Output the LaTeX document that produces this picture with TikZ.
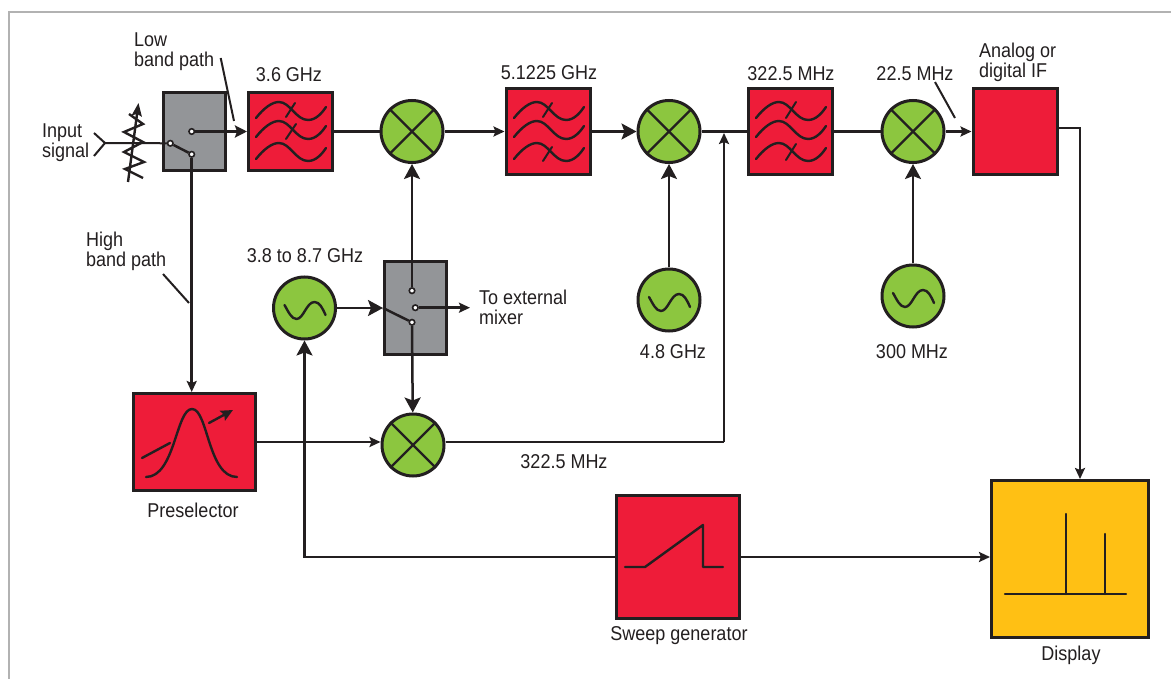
\documentclass[tikz,border=0pt]{standalone}
\usepackage{fontspec}
\setmainfont[FakeStretch=0.90]{Liberation Sans}
\usepackage{tikz}
\usetikzlibrary{arrows.meta,calc}
\definecolor{skRed}{RGB}{238,28,57}
\definecolor{skGreen}{RGB}{140,198,63}
\definecolor{skGray}{RGB}{147,149,152}
\definecolor{skYellow}{RGB}{255,192,20}
\definecolor{skInk}{RGB}{35,31,32}
\tikzset{
  lbl/.style={font=\fontsize{20}{20}\selectfont, text=skInk, inner sep=0pt, align=left},
  block/.style={draw=skInk, line width=3pt, minimum width=#1, inner sep=0pt, shape=rectangle},
  redbox/.style={block=84pt, fill=skRed, minimum height=86pt},
  graybox/.style={block=62pt, fill=skGray},
  roundbox/.style={draw=skInk, line width=3pt, fill=skGreen, circle, minimum size=62pt, inner sep=0pt},
  term/.style={draw=skInk, line width=1.6pt, fill=white, circle, minimum size=5.5pt, inner sep=0pt},
  wire/.style={draw=skInk, line width=2.5pt},
  big/.style={wire, -{Stealth[length=15pt,width=16pt,inset=3pt]}},
  mid/.style={wire, -{Stealth[length=12pt,width=12pt,inset=2pt]}},
  small/.style={wire, -{Stealth[length=11pt,width=10pt,inset=2pt]}},
  glyph/.style={draw=skInk, line width=2.4pt, line cap=round, line join=round}
}
% 一条滤波曲线，#1 #2 为起点
\def\onewave#1#2{
  \draw[glyph] (#1-34,#2) .. controls (#1-26,#2-10) and (#1-18,#2-16) .. (#1-11,#2-16)
    .. controls (#1,#2-16) and (#1+6,#2+2) .. (#1+18,#2+2)
    .. controls (#1+26,#2+2) and (#1+32,#2-5) .. (#1+36,#2-11);
}
\def\wavebank#1#2{
  \onewave{#1}{#2-13}\onewave{#1}{#2+6}\onewave{#1}{#2+28}
}
% 叉号
\def\crossmark#1{
  \draw[glyph, line cap=butt] (#1.45) -- (#1.225);
  \draw[glyph, line cap=butt] (#1.135) -- (#1.315);
}
\def\sinewave#1#2{
  \draw[glyph] (#1-20,#2-3) .. controls (#1-16,#2+4) and (#1-13,#2+11) .. (#1-8,#2+11)
    .. controls (#1-1,#2+11) and (#1+2,#2-6) .. (#1+10,#2-6)
    .. controls (#1+15,#2-6) and (#1+18,#2) .. (#1+21,#2+7);
}
\begin{document}
\begin{tikzpicture}[x=1pt, y=-1pt]
\useasboundingbox (0,0) rectangle (1171,679);
\fill[white] (0,0) rectangle (1171,679);
% 外框
\draw[gray!60, line width=1.5pt] (9,679) -- (9,12) -- (1171,12);
% 方框
\node[graybox, minimum height=78pt] (swlow) at (194,131.5) {};
\node[redbox, minimum height=78pt] (fltone) at (290.5,131.5) {};
\node[redbox] (flttwo) at (548,131.5) {};
\node[redbox] (fltthree) at (790,131.5) {};
\node[redbox] (ifbox) at (1015,131.5) {};
\node[roundbox] (mixone) at (412,131.5) {};
\node[roundbox] (mixtwo) at (669,131.5) {};
\node[roundbox] (mixthree) at (913,131.5) {};
\node[roundbox] (lofirst) at (304.5,308) {};
\node[roundbox] (losecond) at (669,300) {};
\node[roundbox] (lothird) at (913,296) {};
\node[graybox, minimum height=92pt] (swlo) at (415,308) {};
\node[roundbox] (mixfour) at (413,445) {};
\node[block=122pt, fill=skRed, minimum height=97pt] (presel) at (194.5,442) {};
\node[block=123pt, fill=skRed, minimum height=123pt] (sweep) at (678,557) {};
\node[block=157pt, fill=skYellow, minimum height=157pt] (display) at (1070,559) {};
\foreach \m in {mixone,mixtwo,mixthree,mixfour}{\crossmark{\m}}
% 滤波器
\wavebank{290}{131}
\wavebank{548}{131}
\wavebank{790}{131}
\draw[glyph, line width=2pt] (295,103) -- (286,117);
\draw[glyph, line width=2pt] (296,124) -- (286,139);
\draw[glyph, line width=2pt] (552,103) -- (543,117);
\draw[glyph, line width=2pt] (552,147) -- (543,161);
\draw[glyph, line width=2pt] (796,102) -- (786,118);
\draw[glyph, line width=2pt] (796,144) -- (786,160);
% 振荡器
\sinewave{304.5}{308}
\sinewave{669}{300}
\sinewave{913}{296}
% 预选器
\draw[glyph] (146,477) .. controls (175,477) and (176,409) .. (192,409)
  .. controls (208,409) and (208,477) .. (237,477);
\draw[glyph] (142,458) -- (170,443);
\draw[glyph, -{Stealth[length=12pt,width=11pt,inset=2pt]}] (209,423) -- (233,410);
% 扫频
\draw[glyph] (625,567) -- (645,567) -- (703,525) -- (703,567) -- (723,567);
% 显示
\draw[glyph] (1005,594) -- (1126,594);
\draw[glyph] (1066,514) -- (1066,594);
\draw[glyph] (1105,534) -- (1105,594);
% 开关触点
\node[term] (swa) at (191.7,131.5) {};
\node[term] (swb) at (170.3,143.3) {};
\node[term] (swc) at (191.7,154.3) {};
\node[term] (loa) at (412,290.7) {};
\node[term] (lob) at (415.3,307.7) {};
\node[term] (loc) at (412,322.3) {};
% 输入与衰减器
\coordinate (infork) at (105,143);
\coordinate (inup) at (94,133);
\coordinate (indown) at (94,156);
\coordinate (loarm) at (383,308);
\coordinate (atta) at (128,182);
\coordinate (attb) at (138.5,103);
\coordinate (extout) at (470,307.7);
\coordinate (joint) at (724,133);
\coordinate (ifturn) at (1080,128);
\coordinate (midturn) at (724,442);
\coordinate (sweepturn) at (304.5,557);
\draw[wire, line width=2pt] (inup) -- (infork) -- (indown);
\draw[wire, line width=2pt] (infork) -- (swb);
\draw[glyph, line join=miter, line cap=butt] (129,114) -- (143,124) -- (124,132) -- (143,142) -- (124,152) -- (144,162) -- (125,169) -- (143,178);
\draw[glyph, line cap=butt, -{Stealth[length=13pt,width=10pt,inset=2pt]}] (atta) -- (attb);
\draw[wire] (swb) -- (swc);
% 连线
\draw[mid] (swa) -- (fltone.west);
\draw[wire] (fltone) -- (mixone);
\draw[small] (mixone) -- (flttwo);
\draw[big] (flttwo) -- (mixtwo);
\draw[wire] (mixtwo) -- (fltthree);
\draw[wire] (fltthree) -- (mixthree);
\draw[small] (mixthree) -- (ifbox);
\draw[big] (losecond) -- (mixtwo);
\draw[big] (lothird) -- (mixthree);
\draw[big] (loa) -- (mixone);
\draw[big] (loc) -- (mixfour);
\draw[big] (lofirst) -- (loarm);
\draw[wire] (loarm) -- (loc);
\draw[small] (lob) -- (extout);
\draw[small] (swc) -- (swc |- presel.north);
\draw[small] (presel.east |- midturn) -- (mixfour.west |- midturn);
\draw[wire] (mixfour.east |- midturn) -- (midturn);
\draw[small] (midturn) -- (joint);
\draw[small] (ifbox.east |- ifturn) -- (ifturn) -- (display.north -| ifturn);
\draw[big] (sweep.west) -- (sweepturn) -- (lofirst.south);
\draw[small] (sweep.east) -- (display.west |- sweep.east);
% 引线
\coordinate (lowa) at (220.7,58);
\coordinate (lowb) at (234,121);
\coordinate (higha) at (163,274);
\coordinate (highb) at (189,303);
\coordinate (ifa) at (935,82);
\coordinate (ifb) at (955,118);
\draw[wire, line width=2pt] (lowa) -- (lowb);
\draw[wire, line width=2pt] (higha) -- (highb);
\draw[wire, line width=2pt] (ifa) -- (ifb);
% 文字
\node[lbl, anchor=west] (txlow) at (134,52) {Low\\band path};
\node[lbl] (txone) at (289,75) {3.6 GHz};
\node[lbl] (txtwo) at (549,73) {5.1225 GHz};
\node[lbl] (txthree) at (791,74) {322.5 MHz};
\node[lbl] (txfour) at (915,74) {22.5 MHz};
\node[lbl, anchor=west] (txif) at (979,62) {Analog or\\digital IF};
\node[lbl, anchor=west] (txin) at (42,143) {Input\\signal};
\node[lbl, anchor=west] (txhigh) at (86,251) {High\\band path};
\node[lbl] (txlo) at (305,256) {3.8 to 8.7 GHz};
\node[lbl, anchor=west] (txext) at (479,307) {To external\\mixer};
\node[lbl] (txfive) at (673,352) {4.8 GHz};
\node[lbl] (txsix) at (912,352) {300 MHz};
\node[lbl] (txseven) at (564,462) {322.5 MHz};
\node[lbl] (txpre) at (193,510) {Preselector};
\node[lbl] (txsweep) at (679,636) {Sweep generator};
\node[lbl] (txdisp) at (1071,655) {Display};
\end{tikzpicture}
\end{document}
